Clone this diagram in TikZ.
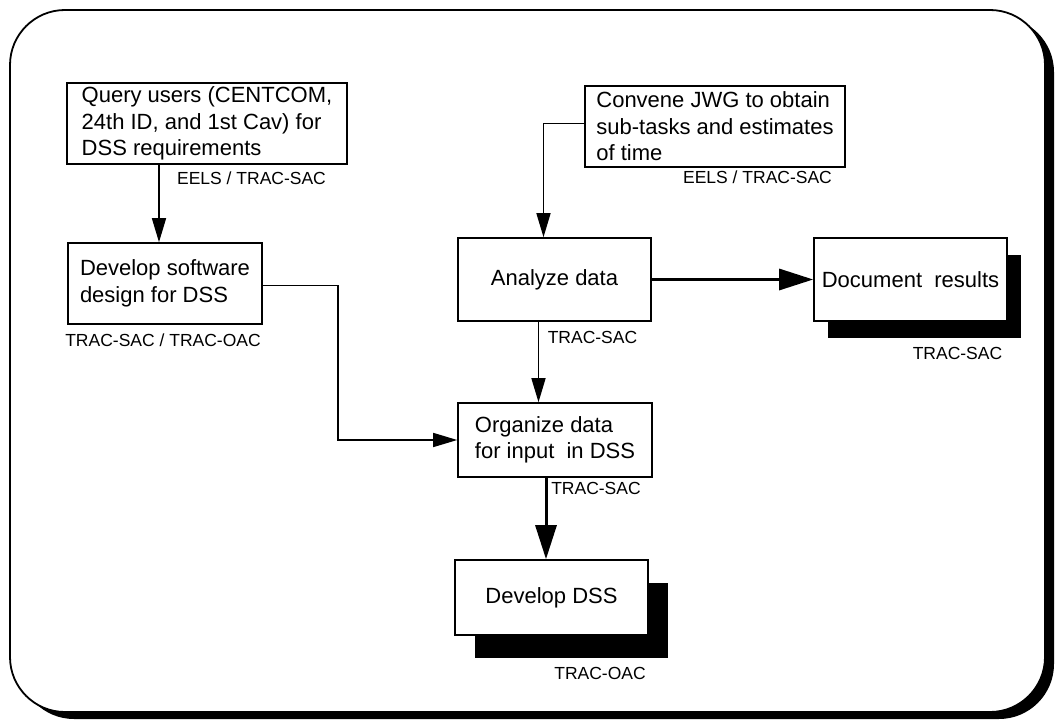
\documentclass[tikz,border=0pt]{standalone}
\usepackage{fontspec}
\setmainfont{Liberation Sans}
\usetikzlibrary{
  arrows.meta,
  positioning, calc, shadows
}
\tikzset{
  % Plain task box
  pbox/.style={
    rectangle, draw=black, line width=1.6pt,
    fill=white, align=left,
    font=\fontsize{22}{26.5}\selectfont,
    inner sep=4pt
  },
  % Task box with solid offset shadow
  pbox shadow/.style={
    pbox,
    general shadow={fill=black, shadow xshift=#1, shadow yshift=-#1-3pt}
  },
  % Responsible office under a box
  org/.style={font=\fontsize{17.5}{20}\selectfont, inner sep=0pt},
  % Arrows
  arr/.style={-{Triangle[length=24pt,width=14pt]}, line width=1.5pt},
  arr thick/.style={-{Triangle[length=34pt,width=21pt]}, line width=3pt},
}

\begin{document}
\begin{tikzpicture}[x=1pt, y=-1pt]
  \useasboundingbox (0,0) rectangle (1058,725);

  %% Outer frame with heavy lower right edge
  \fill[rounded corners=55pt] (19,17) rectangle (1054,719);
  \draw[fill=white, line width=1.8pt, rounded corners=55pt] (10,10) rectangle (1045,712);

  %% Tasks
  \node[pbox, minimum width=280pt, minimum height=81pt] (query) at (207,123.5)
    {Query users (CENTCOM,\\24th ID, and 1st Cav) for\\DSS requirements};
  \node[pbox, minimum width=260pt, minimum height=81pt] (convene) at (715,126.5)
    {Convene JWG to obtain\\sub-tasks and estimates\\of time};
  \node[pbox, minimum width=194pt, minimum height=81pt] (design) at (165,283.5)
    {Develop software\\design for DSS};
  \node[pbox, minimum width=193pt, minimum height=83pt] (analyze) at (554.5,279.5)
    {Analyze data};
  \node[pbox shadow=14pt, minimum width=193pt, minimum height=83pt] (document) at (910.5,279.5)
    {Document\ \ results};
  \node[pbox, minimum width=194pt, minimum height=74pt] (organize) at (555,440)
    {Organize data\\for input\ \ in DSS};
  \node[pbox shadow=20pt, minimum width=193pt, minimum height=75pt] (dss) at (551.5,597.5)
    {Develop DSS};

  %% Offices
  \node[org] (query org) at (251.5,178) {EELS / TRAC-SAC};
  \node[org] (convene org) at (757.5,177) {EELS / TRAC-SAC};
  \node[org] (design org) at (163,340) {TRAC-SAC / TRAC-OAC};
  \node[org] (analyze org) at (592.5,337) {TRAC-SAC};
  \node[org] (document org) at (957.5,353) {TRAC-SAC};
  \node[org] (organize org) at (596,488) {TRAC-SAC};
  \node[org] (dss org) at (600,673) {TRAC-OAC};

  %% Flow
  \draw[arr] ([xshift=-6pt]design.north |- query.south) -- ([xshift=-6pt]design.north);
  \draw[arr] ([yshift=3pt]convene.west) -| ([xshift=-11pt]analyze.north);
  \draw[arr] ([yshift=-2pt]design.east) -- ++(75,0) |- (organize.west);
  \draw[arr] ([xshift=-16pt]analyze.south) -- ([xshift=-16pt]analyze.south |- organize.north);
  \draw[arr thick] (analyze.east) -- (document.west);
  \draw[arr thick] ([xshift=-9pt]organize.south) -- ([xshift=-9pt]organize.south |- dss.north);

\end{tikzpicture}
\end{document}
